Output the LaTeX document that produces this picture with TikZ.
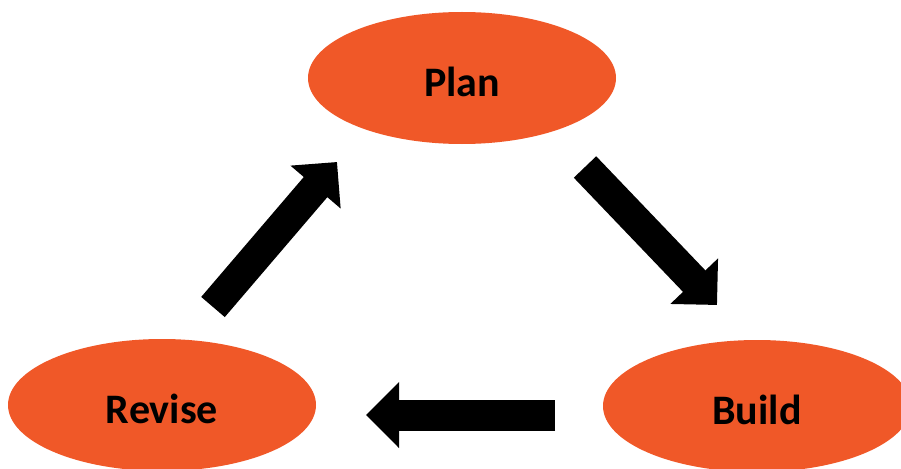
\documentclass[tikz,border=0pt]{standalone}
\usepackage{fontspec}
\setmainfont{Carlito}
\usetikzlibrary{shapes.geometric,arrows.meta}
\definecolor{stageorange}{RGB}{240,88,40}
% stage label, set a little below the centre of its ellipse
\newcommand{\stagetext}[1]{\raisebox{-4pt}[\height][\depth]{#1}}
\tikzset{
  stage/.style={ellipse, fill=stageorange, draw=none, inner sep=0pt,
    minimum width=308pt, minimum height=132pt,
    font=\fontsize{42}{50}\selectfont\bfseries, text=black},
  blockarrow/.style={line width=31pt, line cap=butt,
    -{Triangle[width=64pt 0 0, length=33pt 0 0]}}
}
\begin{document}
\begin{tikzpicture}[x=1pt, y=-1pt]
  \useasboundingbox (0,0) rectangle (901,468);
  % the three stages of the cycle
  \node[stage] (plan)   at (462,78)  {\stagetext{Plan}};
  \node[stage] (build)  at (757,406) {\stagetext{Build}};
  \node[stage] (revise) at (162,405) {\stagetext{Revise}};
  % end points of the block arrows between the stages
  \coordinate (pb-from) at (585,167);
  \coordinate (pb-to)   at (717,305);
  \coordinate (br-from) at (555,415);
  \coordinate (br-to)   at (366,415);
  \coordinate (rp-from) at (213,307);
  \coordinate (rp-to)   at (337,162);
  \draw[blockarrow] (pb-from) -- (pb-to);
  \draw[blockarrow] (br-from) -- (br-to);
  \draw[blockarrow] (rp-from) -- (rp-to);
\end{tikzpicture}
\end{document}
